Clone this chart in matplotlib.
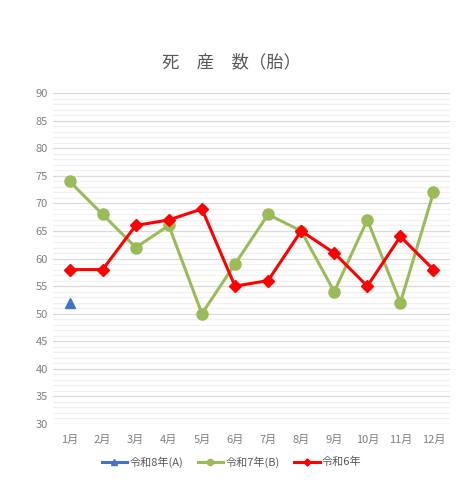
import matplotlib
matplotlib.use('Agg')
import matplotlib.pyplot as plt
import numpy as np

plt.rcParams['font.family'] = ['Noto Sans CJK JP', 'DejaVu Sans']

months = ['1月', '2月', '3月', '4月', '5月', '6月', '7月', '8月', '9月', '10月', '11月', '12月']
r8 = [52] + [np.nan] * 11
r7 = [74, 68, 62, 66, 50, 59, 68, 65, 54, 67, 52, 72]
r6 = [58, 58, 66, 67, 69, 55, 56, 65, 61, 55, 64, 58]

fig = plt.figure(figsize=(4.63, 4.80), dpi=100)
ax = fig.add_axes([0.1145, 0.1167, 0.8575, 0.6893])

x = np.arange(len(months))
ax.plot(x, r8, color='#4472C4', lw=2.2, marker='^', ms=7, label='令和8年(A)')
ax.plot(x, r7, color='#9BBB59', lw=2.2, marker='o', ms=8, label='令和7年(B)')
ax.plot(x, r6, color='#FF0000', lw=2.2, marker='D', ms=6.5, label='令和6年')

ax.set_xlim(-0.5, 11.5)
ax.set_ylim(30, 90)
ax.set_yticks(np.arange(30, 91, 5))
ax.set_yticks(np.arange(30, 91, 1), minor=True)
ax.set_xticks(x)
ax.set_xticklabels(months)
ax.grid(axis='y', which='major', color='#D9D9D9', lw=0.9)
ax.grid(axis='y', which='minor', color='#F0F0F0', lw=0.9)
ax.set_axisbelow(True)
for s in ax.spines.values():
    s.set_visible(False)
ax.tick_params(which='both', length=0, colors='#7F7F7F', labelsize=8)
ax.tick_params(axis='x', pad=8)

fig.text(0.5, 0.87, '死　産　数（胎）', ha='center', va='center', fontsize=12.5, color='#595959')

fig.legend(loc='center', bbox_to_anchor=(0.5, 0.038), ncol=3, frameon=False,
           fontsize=8, labelcolor='#595959', handlelength=2.3, columnspacing=1.3,
           handletextpad=0.2, markerscale=0.55)

fig.savefig('out.png', dpi=100)
